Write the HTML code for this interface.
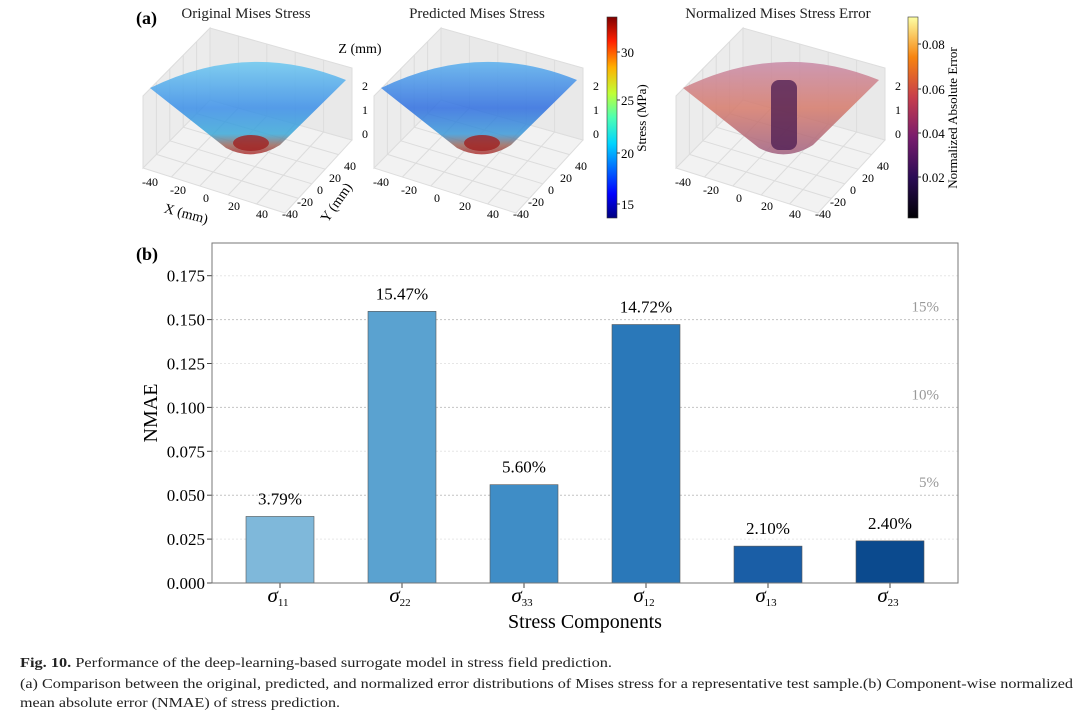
<!DOCTYPE html>
<html><head><meta charset="utf-8"><style>
body{margin:0;background:#fff;}
svg{display:block;font-family:"Liberation Serif",serif;}
</style></head><body>
<svg id="fig" width="1080" height="713" viewBox="0 0 1080 713">
<defs>
<linearGradient id="jet" x1="0" y1="1" x2="0" y2="0">
<stop offset="0" stop-color="#00007f"/><stop offset="0.12" stop-color="#0000ff"/><stop offset="0.37" stop-color="#00d4ff"/><stop offset="0.5" stop-color="#4dffb2"/><stop offset="0.62" stop-color="#c0ff36"/><stop offset="0.75" stop-color="#ffb000"/><stop offset="0.88" stop-color="#ff2000"/><stop offset="1" stop-color="#7f0000"/>
</linearGradient>
<linearGradient id="inf" x1="0" y1="1" x2="0" y2="0">
<stop offset="0" stop-color="#000004"/><stop offset="0.2" stop-color="#2a0b54"/><stop offset="0.4" stop-color="#781c6d"/><stop offset="0.6" stop-color="#c73e4c"/><stop offset="0.8" stop-color="#f78410"/><stop offset="1" stop-color="#fcffa4"/>
</linearGradient>
<linearGradient id="coneJet" x1="0" y1="0" x2="0" y2="1">
<stop offset="0" stop-color="#6cc8f0"/><stop offset="0.5" stop-color="#3a8ee8"/><stop offset="0.78" stop-color="#3aa8d8"/><stop offset="0.9" stop-color="#9a6a60"/><stop offset="1" stop-color="#b03030"/>
</linearGradient>
<linearGradient id="coneJet2" x1="0" y1="0" x2="0" y2="1">
<stop offset="0" stop-color="#5ab0ee"/><stop offset="0.5" stop-color="#2f6ee0"/><stop offset="0.78" stop-color="#3a98d8"/><stop offset="0.9" stop-color="#9a6a60"/><stop offset="1" stop-color="#b03030"/>
</linearGradient>
<linearGradient id="coneInf" x1="0" y1="0" x2="0" y2="1">
<stop offset="0" stop-color="#c88aa8"/><stop offset="0.5" stop-color="#d67a6a"/><stop offset="1" stop-color="#a06080"/>
</linearGradient>
</defs>
<g id="panels"></g>
<g id="chart"></g>
<g font-size="14" fill="#222">
<text x="20" y="667" textLength="592" lengthAdjust="spacingAndGlyphs"><tspan font-weight="bold">Fig. 10.</tspan> Performance of the deep-learning-based surrogate model in stress field prediction.</text>
<text x="20" y="688" textLength="1053" lengthAdjust="spacingAndGlyphs">(a) Comparison between the original, predicted, and normalized error distributions of Mises stress for a representative test sample.(b) Component-wise normalized</text>
<text x="20" y="707" textLength="320" lengthAdjust="spacingAndGlyphs">mean absolute error (NMAE) of stress prediction.</text>
</g>
</svg>
<script>
const NS="http://www.w3.org/2000/svg";
function mk(tag,attrs,parent,txt){const e=document.createElementNS(NS,tag);for(const k in attrs)e.setAttribute(k,attrs[k]);if(txt!==undefined)e.textContent=txt;parent.appendChild(e);return e;}
// ---------- Panel (a) ----------
const P=document.getElementById('panels');
mk('text',{x:136,y:24,'font-size':18,'font-weight':'bold'},P,'(a)');
const panelTitles=["Original Mises Stress","Predicted Mises Stress","Normalized Mises Stress Error"];
const panelOffsets=[0,231,533];
const titleX=[246,477,778];
const fills=['url(#coneJet)','url(#coneJet2)','url(#coneInf)'];
const xTicks=["-40","-20","0","20","40"];
const yTicks=["40","20","0","-20","-40"];
const zTicks=["2","1","0"];
panelTitles.forEach((t,i)=>{
  const g=mk('g',{},P);
  
  
  const o=panelOffsets[i];
  const tt=mk('text',{x:titleX[i],y:18,'font-size':15,'text-anchor':'middle',fill:'#222'},g,t);
  
  
  const A=[143+o,168],B=[285+o,213],C=[352+o,140],D=[210+o,100],h=72;
  const pt=p=>p[0]+','+p[1];
  mk('polygon',{points:[A,B,C,D].map(pt).join(' '),fill:'#f2f2f2',stroke:'#ddd'},g);
  mk('polygon',{points:[A,D,[D[0],D[1]-h],[A[0],A[1]-h]].map(pt).join(' '),fill:'#ececec',stroke:'#ddd'},g);
  mk('polygon',{points:[D,C,[C[0],C[1]-h],[D[0],D[1]-h]].map(pt).join(' '),fill:'#e9e9e9',stroke:'#ddd'},g);
  for(let k=1;k<5;k++){
    const f=k/5;
    const l=(P1,P2)=>[P1[0]+(P2[0]-P1[0])*f,P1[1]+(P2[1]-P1[1])*f];
    const a=l(A,B),d=l(D,C),b=l(A,D),c=l(B,C);
    mk('line',{x1:a[0],y1:a[1],x2:d[0],y2:d[1],stroke:'#dcdcdc'},g);
    mk('line',{x1:b[0],y1:b[1],x2:c[0],y2:c[1],stroke:'#dcdcdc'},g);
    mk('line',{x1:b[0],y1:b[1],x2:b[0],y2:b[1]-h,stroke:'#dcdcdc'},g);
    mk('line',{x1:d[0],y1:d[1],x2:d[0],y2:d[1]-h,stroke:'#dcdcdc'},g);
  }
  const cx=248+o;
  mk('path',{d:`M${cx-98},${88} Q${cx},${40} ${cx+98},${80} L${cx+32},${145} Q${cx+5},${162} ${cx-22},${148} Z`,fill:fills[i],opacity:0.85},g);
  if(i==2){mk('rect',{x:cx-10,y:80,width:26,height:70,rx:8,fill:'#4a1a50',opacity:0.75},g);}
  else{mk('ellipse',{cx:cx+3,cy:143,rx:18,ry:8,fill:'#a02020',opacity:0.8},g);}
  xTicks.forEach((s,k)=>mk('text',{x:150+o+k*28,y:186+k*8,'font-size':12,'text-anchor':'middle'},g,s));
  yTicks.forEach((s,k)=>mk('text',{x:350+o-k*15,y:170+k*12,'font-size':12,'text-anchor':'middle'},g,s));
  zTicks.forEach((s,k)=>mk('text',{x:362+o,y:90+k*24,'font-size':12},g,s));
  if(i==0){
    mk('text',{x:360,y:53,'font-size':14,'text-anchor':'middle'},g,'Z (mm)');
    mk('text',{x:185,y:218,'font-size':14,'text-anchor':'middle',transform:'rotate(15 185 218)'},g,'X (mm)');
    mk('text',{x:340,y:205,'font-size':14,'text-anchor':'middle',transform:'rotate(-55 340 205)'},g,'Y (mm)');
  }
});
const jetTicks=["30","25","20","15"], jetTickY=[52,100,153,204];
const cb1=mk('rect',{x:607,y:17,width:10,height:201,fill:'url(#jet)',stroke:'#333','stroke-width':0.6},P);


jetTicks.forEach((s,k)=>{mk('line',{x1:617,x2:620,y1:jetTickY[k],y2:jetTickY[k],stroke:'#333'},P);mk('text',{x:621,y:jetTickY[k]+5,'font-size':13},P,s);});
mk('text',{x:646,y:118,'font-size':13,'text-anchor':'middle',transform:'rotate(-90 646 118)'},P,'Stress (MPa)');
const infTicks=["0.08","0.06","0.04","0.02"], infTickY=[44,89,133,177];
const cb2=mk('rect',{x:908,y:17,width:10,height:201,fill:'url(#inf)',stroke:'#333','stroke-width':0.6},P);


infTicks.forEach((s,k)=>{mk('line',{x1:918,x2:921,y1:infTickY[k],y2:infTickY[k],stroke:'#333'},P);mk('text',{x:922,y:infTickY[k]+5,'font-size':13},P,s);});
mk('text',{x:957,y:118,'font-size':13,'text-anchor':'middle',transform:'rotate(-90 957 118)'},P,'Normalized Absolute Error');

// ---------- Panel (b) bar chart ----------
const categories=["11","22","33","12","13","23"];
const values=[0.0379,0.1547,0.0560,0.1472,0.0210,0.0240];
const valueLabels=["3.79%","15.47%","5.60%","14.72%","2.10%","2.40%"];
const yTickVals=[0,0.025,0.05,0.075,0.1,0.125,0.15,0.175];
const yTickLabels=["0.000","0.025","0.050","0.075","0.100","0.125","0.150","0.175"];
const refVals=[0.05,0.10,0.15];
const refLabels=["5%","10%","15%"];
const barColors=["#7fb8da","#5aa2d0","#3f8dc6","#2a78b9","#1a5ea6","#0b4a8e"];
const Cg=document.getElementById('chart');
const L=212,R=958,T=243,Bt=583;
const yS=v=>Bt-v/0.025*43.9;
const xS=i=>280+i*122;
const bw=68;
mk('text',{x:136,y:260,'font-size':18,'font-weight':'bold'},Cg,'(b)');
yTickVals.forEach((v,k)=>{
  if(k>0){const gl=mk('line',{x1:L,x2:R,y1:yS(v),y2:yS(v),stroke:refVals.some(r=>Math.abs(r-v)<1e-9)?'#c4c4c4':'#e6e6e6','stroke-dasharray':'2,2'},Cg);
  
  }
  mk('line',{x1:L-5,x2:L,y1:yS(v),y2:yS(v),stroke:'#444'},Cg);
  const tl=mk('text',{x:L-7,y:yS(v)+6,'font-size':17,'text-anchor':'end'},Cg,yTickLabels[k]);
  
  
});
refVals.forEach((v,k)=>{
  const t=mk('text',{x:939,y:yS(v)-8,'font-size':15,'text-anchor':'end',fill:'#999'},Cg,refLabels[k]);
  
  
});
values.forEach((v,i)=>{
  const r=mk('rect',{x:xS(i)-bw/2,y:yS(v),width:bw,height:Bt-yS(v),fill:barColors[i],stroke:'#555','stroke-width':0.6},Cg);
  
  
  const t=mk('text',{x:xS(i),y:yS(v)-12,'font-size':17,'text-anchor':'middle'},Cg,valueLabels[i]);
  
  
  mk('line',{x1:xS(i),x2:xS(i),y1:Bt,y2:Bt+5,stroke:'#444'},Cg);
  const xl=mk('text',{x:xS(i)-2,y:Bt+19,'font-size':21,'text-anchor':'middle','font-style':'italic'},Cg);
  
  
  mk('tspan',{},xl,'σ');
  mk('tspan',{'font-size':11,dy:4,'font-style':'normal'},xl,categories[i]);
});
const frame=mk('rect',{x:L,y:T,width:R-L,height:Bt-T,fill:'none',stroke:'#777','stroke-width':1},Cg);


const xt=mk('text',{x:585,y:628,'font-size':20,'text-anchor':'middle'},Cg,'Stress Components');


const yt=mk('text',{x:157,y:413,'font-size':20,'text-anchor':'middle',transform:'rotate(-90 157 413)'},Cg,'NMAE');


</script>
</body></html>
